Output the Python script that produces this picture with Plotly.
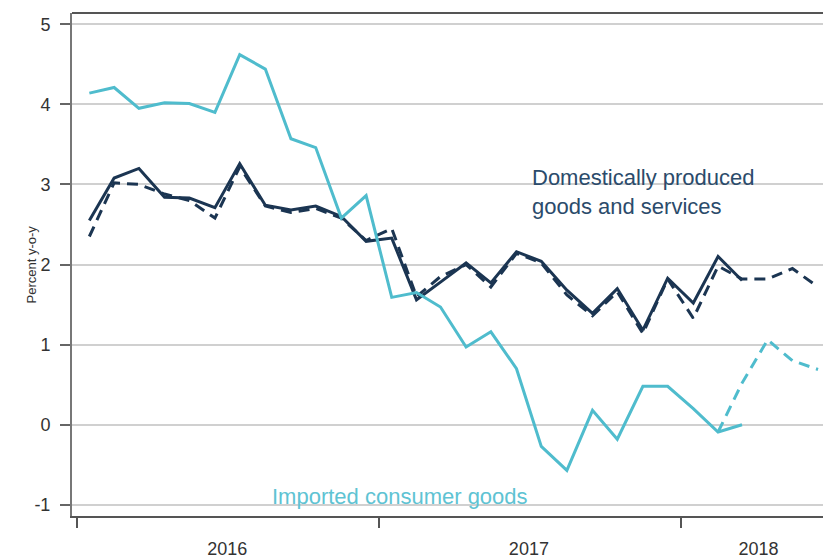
import plotly.graph_objects as go

months = [
    "2016-01-16", "2016-02-15", "2016-03-16", "2016-04-16", "2016-05-16", "2016-06-16",
    "2016-07-16", "2016-08-16", "2016-09-16", "2016-10-16", "2016-11-16", "2016-12-16",
    "2017-01-16", "2017-02-15", "2017-03-16", "2017-04-16", "2017-05-16", "2017-06-16",
    "2017-07-16", "2017-08-16", "2017-09-16", "2017-10-16", "2017-11-16", "2017-12-16",
    "2018-01-16", "2018-02-15", "2018-03-16", "2018-04-16", "2018-05-16", "2018-06-16",
]

imported_solid = [4.14, 4.21, 3.95, 4.02, 4.01, 3.90, 4.62, 4.44, 3.57, 3.46, 2.58, 2.86,
                  1.59, 1.65, 1.47, 0.97, 1.16, 0.70, -0.27, -0.57, 0.18, -0.18, 0.48, 0.48,
                  0.20, -0.09, 0.00]
imported_dash_months = months[25:30]
imported_dash = [-0.09, 0.52, 1.06, 0.80, 0.69]

domestic_solid = [2.55, 3.08, 3.20, 2.84, 2.83, 2.71, 3.26, 2.74, 2.68, 2.73, 2.60, 2.29,
                  2.33, 1.56, 1.78, 2.02, 1.77, 2.16, 2.04, 1.68, 1.39, 1.70, 1.18, 1.83,
                  1.52, 2.10, 1.80]
domestic_dash = [2.35, 3.02, 3.00, 2.88, 2.80, 2.58, 3.22, 2.73, 2.65, 2.70, 2.58, 2.30,
                 2.45, 1.60, 1.85, 2.00, 1.72, 2.14, 2.02, 1.62, 1.36, 1.66, 1.14, 1.82,
                 1.33, 1.98, 1.82, 1.82, 1.95, 1.72]

year_labels = ["2016", "2017", "2018"]
year_label_pos = ["2016-07-01", "2017-07-01", "2018-04-05"]
year_bounds = ["2016-01-01", "2017-01-01", "2018-01-01"]
y_ticks = [-1, 0, 1, 2, 3, 4, 5]
y_ticktext = ["-1", "0", "1", "2", "3", "4", "5"]

LIGHT = "#4fbccd"
DARK = "#1b3552"
FONT = "Liberation Sans, Arial"

fig = go.Figure()
fig.add_trace(go.Scatter(x=months, y=domestic_dash, mode="lines",
                         line=dict(color=DARK, width=3, dash="11px,7px"), showlegend=False))
fig.add_trace(go.Scatter(x=months[:len(domestic_solid)], y=domestic_solid, mode="lines",
                         line=dict(color=DARK, width=3), showlegend=False))
fig.add_trace(go.Scatter(x=imported_dash_months, y=imported_dash, mode="lines",
                         line=dict(color=LIGHT, width=3, dash="11px,7px"), showlegend=False))
fig.add_trace(go.Scatter(x=months[:len(imported_solid)], y=imported_solid, mode="lines",
                         line=dict(color=LIGHT, width=3), showlegend=False))

fig.add_annotation(x="2017-07-02", y=2.91, xref="x", yref="y",
                   text="Domestically produced<br>goods and services", showarrow=False,
                   xanchor="left", yanchor="middle", align="left",
                   font=dict(size=22, color="#2b4b6b", family=FONT))
fig.add_annotation(x="2016-08-22", y=-0.89, xref="x", yref="y",
                   text="Imported consumer goods", showarrow=False,
                   xanchor="left", yanchor="middle", align="left",
                   font=dict(size=22, color="#5ec3d3", family=FONT))
fig.add_annotation(x=-0.0533, y=0.5, xref="paper", yref="paper",
                   text="Percent y-o-y", showarrow=False, textangle=-90,
                   xanchor="center", yanchor="middle",
                   font=dict(size=13, color="#333333", family=FONT))

fig.update_layout(
    width=823, height=559,
    margin=dict(l=72, r=0, t=13, b=36),
    paper_bgcolor="white", plot_bgcolor="white",
    font=dict(family=FONT, color="#333333"),
    xaxis=dict(
        type="date",
        range=["2015-12-26", "2018-06-22"],
        tickvals=year_label_pos, ticktext=year_labels,
        ticks="", ticklabelstandoff=15,
        tickfont=dict(size=18, color="#333333"),
        showgrid=False, zeroline=False,
        showline=True, linecolor="#555555", linewidth=2,
        minor=dict(tickvals=year_bounds, ticks="outside", ticklen=10,
                   tickcolor="#555555", tickwidth=2, showgrid=False),
    ),
    yaxis=dict(
        range=[-1.139, 5.14],
        tickvals=y_ticks, ticktext=y_ticktext,
        ticks="outside", ticklen=10, tickcolor="#666666", tickwidth=2,
        ticklabelstandoff=6,
        tickfont=dict(size=18, color="#333333"),
        showgrid=True, gridcolor="#d0d0d0", gridwidth=2,
        zeroline=False,
        showline=True, linecolor="#777777", linewidth=2,
    ),
)

fig.add_shape(type="line", xref="paper", yref="paper", x0=0, x1=1, y0=1, y1=1,
              line=dict(color="#555555", width=2))

fig.write_html("out.html",
               config={"displayModeBar": False},
               post_script="document.body.style.margin='0px';document.body.style.overflow='hidden';")
